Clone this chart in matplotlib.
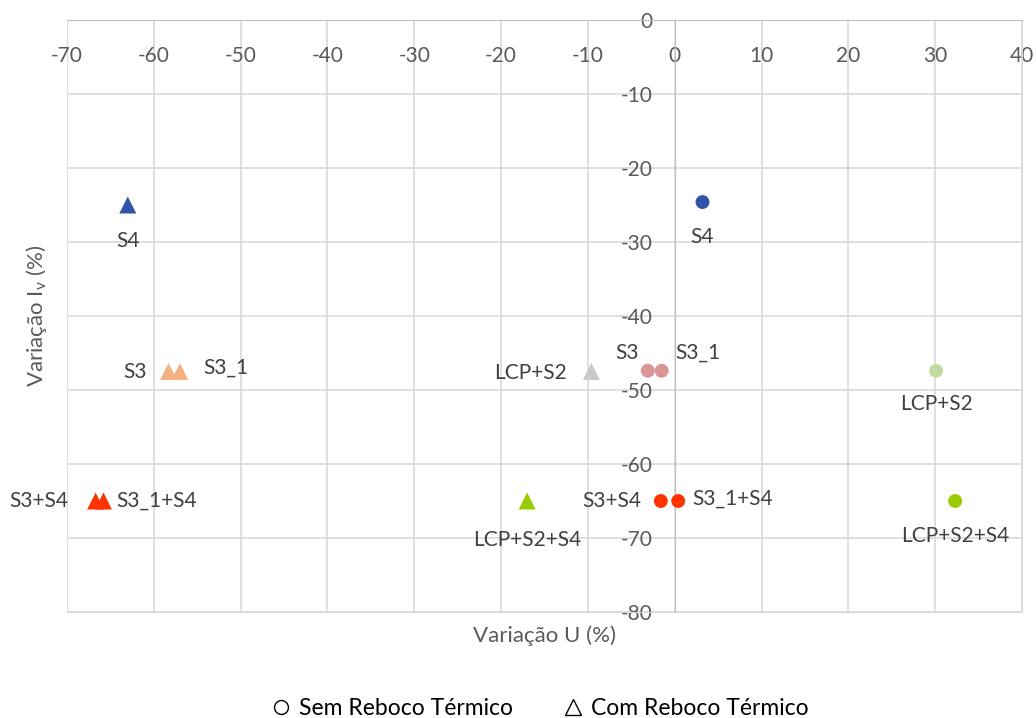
import matplotlib.pyplot as plt
from matplotlib.lines import Line2D

plt.rcParams['font.family'] = ['Lato', 'DejaVu Sans']
plt.rcParams['mathtext.default'] = 'regular'
plt.rcParams['axes.unicode_minus'] = False

# series labels
labels = ['S4', 'S3', 'S3_1', 'LCP+S2', 'S3+S4', 'S3_1+S4', 'LCP+S2+S4']

# sem reboco termico (circles)
sem_x = [3.2, -3.1, -1.5, 30.1, -1.6, 0.4, 32.3]
sem_y = [-24.6, -47.4, -47.4, -47.4, -65.0, -65.0, -65.0]
sem_colors = ['#2F55A8', '#D99694', '#D99694', '#C4D9A0', '#FF3300', '#FF3300', '#99CC00']

# com reboco termico (triangles)
com_x = [-63.0, -58.3, -57.0, -9.6, -66.7, -65.8, -17.0]
com_y = [-25.0, -47.5, -47.5, -47.5, -65.0, -65.0, -65.0]
com_colors = ['#2F55A8', '#F4B183', '#F4B183', '#C9C9C9', '#FF3300', '#FF3300', '#99CC00']

# label placement (offset in points, horizontal alignment)
sem_off = [(0, -25, 'center'), (-15, 13, 'center'), (10, 13, 'left'), (0, -24, 'center'),
           (-14, 0, 'right'), (10, 2, 'left'), (0, -25, 'center')]
com_off = [(0, -26, 'center'), (-16, 0, 'right'), (17, 3, 'left'), (-18, -1, 'right'),
           (-20, 0, 'right'), (9, 0, 'left'), (0, -28, 'center')]

fig = plt.figure(figsize=(10.36, 7.18), dpi=100)
ax = fig.add_axes([67/1036, 106/718, 955/1036, 592/718])

ax.scatter(sem_x, sem_y, s=100, c=sem_colors, marker='o', zorder=3, linewidths=0)
ax.scatter(com_x, com_y, s=150, c=com_colors, marker='^', zorder=3, linewidths=0)

for lab, x, y, (dx, dy, ha) in zip(labels, sem_x, sem_y, sem_off):
    ax.annotate(lab, (x, y), xytext=(dx, dy), textcoords='offset points',
                ha=ha, va='center', fontsize=15, color='#404040')
for lab, x, y, (dx, dy, ha) in zip(labels, com_x, com_y, com_off):
    ax.annotate(lab, (x, y), xytext=(dx, dy), textcoords='offset points',
                ha=ha, va='center', fontsize=15, color='#404040')

ax.set_xlim(-70, 40)
ax.set_ylim(-80, 0)
ax.set_xticks(range(-70, 41, 10))
ax.set_yticks(range(-80, 1, 10))
ax.grid(True, color='#D9D9D9', linewidth=1.2)
ax.set_axisbelow(True)

# axes cross at the origin
ax.spines['left'].set_position(('data', 0))
ax.spines['left'].set_color('#BFBFBF')
ax.spines['top'].set_color('#BFBFBF')
ax.spines['right'].set_color('#D9D9D9')
ax.spines['bottom'].set_color('#D9D9D9')
ax.xaxis.set_ticks_position('top')
ax.tick_params(axis='x', length=0, pad=-33, labelsize=15, labelcolor='#595959')
ax.tick_params(axis='y', length=0, pad=16, labelsize=15, labelcolor='#595959')

ax.set_xlabel('Variação U (%)', fontsize=16, color='#595959')
ax.xaxis.set_label_position('bottom')
ax.xaxis.set_label_coords(0.5, -0.022)
ax.set_ylabel('Variação I$_{v}$ (%)', fontsize=16, color='#595959')
ax.yaxis.set_label_coords(-0.019, 0.5)

handles = [Line2D([], [], marker='o', linestyle='none', markerfacecolor='none',
                  markeredgecolor='black', markersize=10),
           Line2D([], [], marker='^', linestyle='none', markerfacecolor='none',
                  markeredgecolor='black', markersize=11)]
fig.legend(handles, ['Sem Reboco Térmico', 'Com Reboco Térmico'], loc='lower center',
           bbox_to_anchor=(0.515, -0.03), ncol=2, frameon=False, fontsize=16.5,
           handletextpad=-0.2, columnspacing=1.6)

fig.savefig('out.png', dpi=100)
